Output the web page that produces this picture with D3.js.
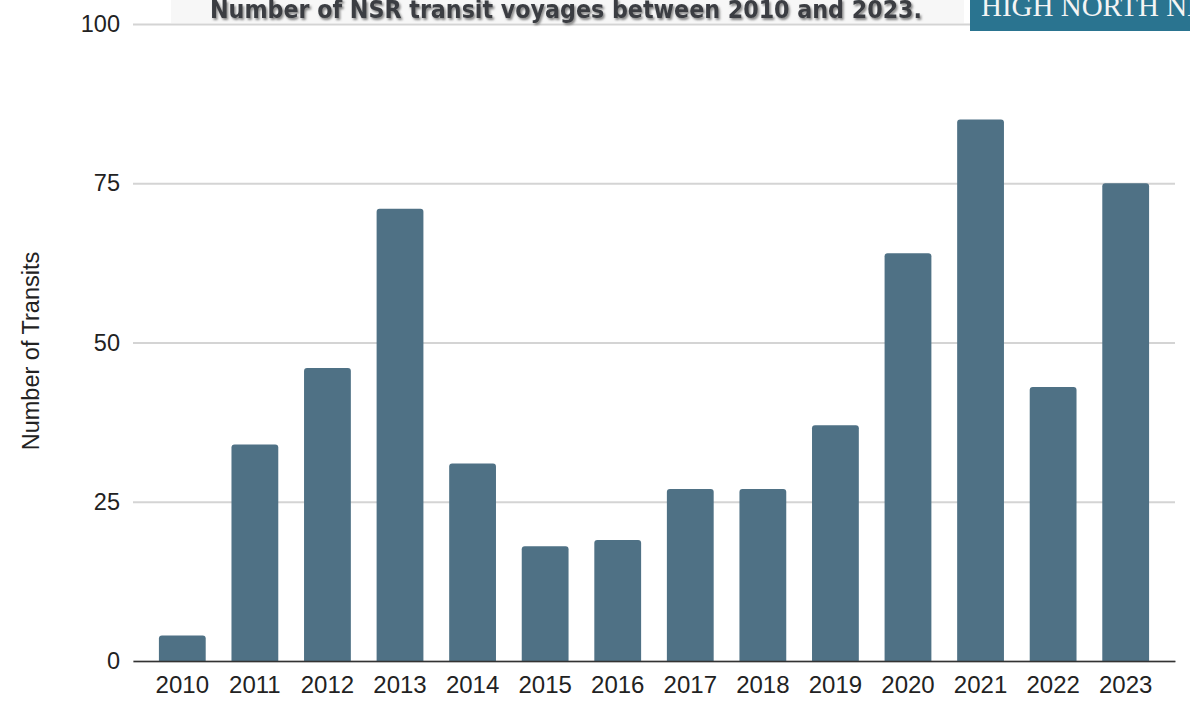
<!DOCTYPE html>
<html>
<head>
<meta charset="utf-8">
<script src="https://cdn.jsdelivr.net/npm/d3@7"></script>
<style>
  body { margin: 0; background: #fff; }
  svg { display: block; }
</style>
</head>
<body>
<div id="chart"></div>
<script>
/* data */
var years = ["2010", "2011", "2012", "2013", "2014", "2015", "2016",
             "2017", "2018", "2019", "2020", "2021", "2022", "2023"];
var transits = [4, 34, 46, 71, 31, 18, 19, 27, 27, 37, 64, 85, 43, 75];
var yTicks = [0, 25, 50, 75, 100];

var W = 1190, H = 707;
var margin = { top: 24, right: 15, bottom: 46, left: 133 },
    width = W - margin.left - margin.right,
    height = H - margin.top - margin.bottom;

var root = d3.select("#chart")
    .append("svg")
    .attr("width", W)
    .attr("height", H);

// shadow for the title
var defs = root.append("defs");
defs.append("filter")
    .attr("id", "shadow")
    .attr("x", "-5%").attr("y", "-50%")
    .attr("width", "110%").attr("height", "200%")
    .append("feDropShadow")
    .attr("dx", 1.5).attr("dy", 2)
    .attr("stdDeviation", 1.3)
    .attr("flood-color", "#666")
    .attr("flood-opacity", 0.8);

// chart title on a faint band (sits under the top gridline)
root.append("rect")
    .attr("x", 171).attr("y", 0)
    .attr("width", 793).attr("height", 23)
    .attr("fill", "#f7f7f7");

var svg = root.append("g")
    .attr("transform", "translate(" + margin.left + "," + margin.top + ")");

var x = d3.scaleBand()
    .domain(years)
    .range([0, width])
    .paddingInner(0.355)
    .paddingOuter(0.357);

var y = d3.scaleLinear()
    .domain([0, 100])
    .range([height, 0]);

// gridlines + y labels
var yAxis = svg.append("g")
    .call(d3.axisLeft(y).tickValues(yTicks).tickSize(-width).tickPadding(13));
yAxis.select(".domain").remove();
yAxis.selectAll(".tick line")
    .attr("stroke", "#d4d4d4")
    .attr("stroke-width", 2);
yAxis.selectAll(".tick text")
    .attr("font-family", "Liberation Sans, Arial, sans-serif")
    .attr("font-size", 23.5)
    .attr("fill", "#222");

// bars, top corners rounded
var r = 3;
svg.selectAll(".bar")
    .data(transits)
    .enter()
    .append("path")
    .attr("class", "bar")
    .attr("fill", "#4f7185")
    .attr("d", function (d, i) {
        var x0 = x(years[i]), x1 = x0 + x.bandwidth();
        var y0 = y(d), y1 = y(0);
        return "M" + x0 + "," + y1 +
            "V" + (y0 + r) +
            "Q" + x0 + "," + y0 + " " + (x0 + r) + "," + y0 +
            "H" + (x1 - r) +
            "Q" + x1 + "," + y0 + " " + x1 + "," + (y0 + r) +
            "V" + y1 + "Z";
    });

// x axis
var xAxis = svg.append("g")
    .attr("transform", "translate(0," + height + ")")
    .call(d3.axisBottom(x).tickSize(0).tickPadding(15));
xAxis.select(".domain")
    .attr("stroke", "#333")
    .attr("stroke-width", 1.5);
xAxis.selectAll(".tick text")
    .attr("font-family", "Liberation Sans, Arial, sans-serif")
    .attr("font-size", 24)
    .attr("fill", "#222");

// y axis title
root.append("text")
    .attr("transform", "translate(39," + 351 + ") rotate(-90)")
    .attr("text-anchor", "middle")
    .attr("font-family", "Liberation Sans, Arial, sans-serif")
    .attr("font-size", 23.5)
    .attr("fill", "#222")
    .text("Number of Transits");

// title
root.append("text")
    .attr("x", 210)
    .attr("y", 18)
    .attr("textLength", 712)
    .attr("lengthAdjust", "spacingAndGlyphs")
    .attr("font-family", "DejaVu Sans, sans-serif")
    .attr("font-weight", "bold")
    .attr("font-size", 24)
    .attr("fill", "#3b3e43")
    .attr("filter", "url(#shadow)")
    .text("Number of NSR transit voyages between 2010 and 2023.");

// logo strip, cut off at the edge
root.append("rect")
    .attr("x", 970).attr("y", 0)
    .attr("width", 220).attr("height", 31)
    .attr("fill", "#2a7490");
root.append("text")
    .attr("x", 981)
    .attr("y", 16)
    .attr("font-family", "Liberation Serif, Times New Roman, serif")
    .attr("font-size", 29)
    .attr("fill", "#f4f4f4")
    .text("HIGH NORTH NEWS");
</script>
</body>
</html>
